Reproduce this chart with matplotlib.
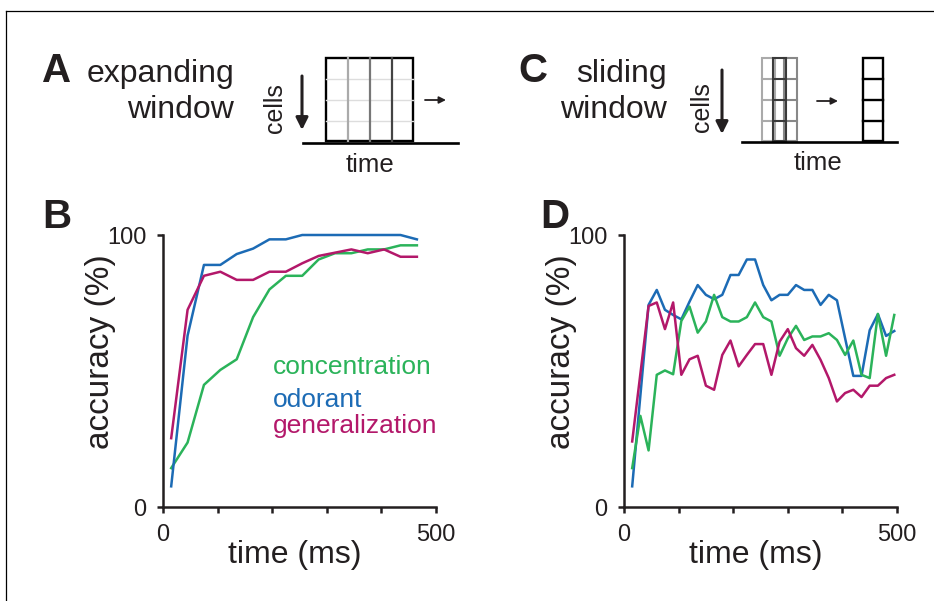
import matplotlib.pyplot as plt
from matplotlib.patches import Rectangle

plt.rcParams['font.family'] = ['Liberation Sans', 'DejaVu Sans']

# Panel B: expanding window (ms)
t_expand = [15, 45, 75, 105, 135, 165, 195, 225, 255, 285, 315, 345, 375, 405, 435, 465]
conc_expand = [14.3, 23.7, 44.9, 50.4, 54.3, 69.8, 80.0, 85.0, 85.0, 91.0, 93.3, 93.3, 94.7, 94.7, 96.2, 96.2]
odor_expand = [7.6, 63.0, 89.0, 89.0, 93.0, 95.0, 98.4, 98.4, 100, 100, 100, 100, 100, 100, 100, 98.4]
gen_expand = [25.3, 72.5, 85.0, 86.5, 83.5, 83.5, 86.5, 86.5, 89.6, 92.3, 93.5, 94.7, 93.3, 94.7, 92.0, 92.0]

# Panel D: sliding window (ms)
t_slide = [15, 30, 45, 60, 75, 90, 105, 120, 135, 150, 165, 180, 195, 210, 225, 240, 255,
           270, 285, 300, 315, 330, 345, 360, 375, 390, 405, 420, 435, 450, 465, 480, 495]
conc_slide = [14.3, 33.5, 20.8, 48.6, 50.2, 48.8, 68.4, 73.7, 64.1, 68.2, 78.0, 69.8, 68.2,
              68.2, 69.8, 75.2, 69.8, 68.2, 55.6, 62.0, 66.6, 61.4, 62.7, 62.7, 63.9, 61.4,
              55.9, 61.2, 48.6, 47.4, 71.0, 55.6, 70.6]
odor_slide = [7.6, 41.0, 74.3, 79.8, 72.5, 70.6, 69.0, 75.5, 81.6, 78.0, 76.4, 78.0, 85.3,
              85.3, 91.0, 91.0, 81.6, 76.0, 78.0, 78.0, 81.6, 79.8, 79.8, 74.3, 78.0, 76.0,
              62.0, 48.2, 48.2, 65.0, 70.9, 62.9, 64.7]
gen_slide = [24.1, 49.0, 73.9, 75.2, 65.4, 75.2, 48.6, 54.3, 55.6, 44.6, 43.1, 55.9, 61.2,
             51.7, 55.9, 59.9, 59.9, 48.6, 60.8, 65.4, 58.4, 55.6, 59.6, 54.1, 47.4, 38.8,
             41.9, 43.1, 40.4, 44.6, 44.6, 47.4, 48.6]

series_names = ['concentration', 'odorant', 'generalization']
colors = {'concentration': '#2bb35a', 'odorant': '#1c6bb5', 'generalization': '#b3186a'}
dark = '#231f20'

W, H = 934, 601
fig = plt.figure(figsize=(W / 100, H / 100), dpi=100)

# overlay in pixel coords for the frame, schematics and panel letters
bg = fig.add_axes([0, 0, 1, 1])
bg.set_xlim(0, W)
bg.set_ylim(H, 0)
bg.axis('off')
bg.patch.set_alpha(0)

bg.plot([6, W], [11, 11], color='black', lw=0.9)
bg.plot([6, 6], [11, H], color='black', lw=0.9)

for letter, x, y in [('A', 42, 82), ('B', 42, 228), ('C', 518, 82), ('D', 540, 228)]:
    bg.text(x, y, letter, fontsize=29, fontweight='bold', color=dark, ha='left', va='baseline')

for title, x in [(('expanding', 'window'), 234), (('sliding', 'window'), 667)]:
    bg.text(x, 82, title[0], fontsize=23, color=dark, ha='right', va='baseline')
    bg.text(x, 118, title[1], fontsize=23, color=dark, ha='right', va='baseline')


def down_arrow(x, y0, y1):
    bg.annotate('', xy=(x, y1), xytext=(x, y0),
                arrowprops=dict(arrowstyle='-|>', color=dark, lw=2.2,
                                mutation_scale=18, shrinkA=0, shrinkB=0))


def right_arrow(x0, x1, y):
    bg.annotate('', xy=(x1, y), xytext=(x0, y),
                arrowprops=dict(arrowstyle='-|>', color=dark, lw=1.3,
                                mutation_scale=10, shrinkA=0, shrinkB=0))


def column(x0, x1, y0, y1, color, lw):
    bg.add_patch(Rectangle((x0, y0), x1 - x0, y1 - y0, fill=False, edgecolor=color, lw=lw))
    for yy in [79, 100, 121]:
        bg.plot([x0, x1], [yy, yy], color=color, lw=lw)


# A schematic
for yy in [79, 100, 121]:
    bg.plot([326, 413], [yy, yy], color='#dddddd', lw=1.0)
for xx, c in [(348, '#aaaaaa'), (370, '#777777'), (392, '#444444')]:
    bg.plot([xx, xx], [58, 141], color=c, lw=1.6)
bg.add_patch(Rectangle((326, 58), 87, 83, fill=False, edgecolor='black', lw=1.7))
bg.plot([303, 458], [143, 143], color='black', lw=1.9)
down_arrow(302, 76, 130)
right_arrow(425, 446, 100)
bg.text(275, 108, 'cells', fontsize=18, color=dark, rotation=90, ha='center', va='center')
bg.text(370, 165, 'time', fontsize=18.5, color=dark, ha='center', va='center')

# C schematic
column(762, 775, 58, 141, '#aaaaaa', 1.5)
column(784, 797, 58, 141, '#888888', 1.5)
column(773, 786, 58, 141, '#3a3a3a', 1.5)
column(863, 883, 58, 141, 'black', 1.7)
bg.plot([742, 897], [142, 142], color='black', lw=1.9)
down_arrow(722, 70, 134)
right_arrow(817, 838, 101)
bg.text(702, 107, 'cells', fontsize=18, color=dark, rotation=90, ha='center', va='center')
bg.text(818, 163, 'time', fontsize=18.5, color=dark, ha='center', va='center')


def make_axes(left_px):
    ax = fig.add_axes([left_px / W, (H - 507) / H, 273 / W, 272 / H])
    ax.set_xlim(0, 500)
    ax.set_ylim(0, 100)
    for s in ['top', 'right']:
        ax.spines[s].set_visible(False)
    for s in ['left', 'bottom']:
        ax.spines[s].set_linewidth(1.8)
        ax.spines[s].set_color(dark)
    ax.set_xticks([0, 100, 200, 300, 400, 500])
    ax.set_xticklabels(['0', '', '', '', '', '500'])
    ax.set_yticks([0, 100])
    ax.set_yticklabels(['0', '100'])
    ax.tick_params(direction='out', length=4, width=1.8, color=dark, labelsize=17,
                   labelcolor=dark, pad=8)
    ax.patch.set_alpha(0)
    ax.text(-0.23, 0.57, 'accuracy (%)', transform=ax.transAxes, rotation=90,
            fontsize=24, color=dark, ha='center', va='center')
    ax.text(0.483, -0.176, 'time (ms)', transform=ax.transAxes,
            fontsize=23, color=dark, ha='center', va='center')
    return ax


axB = make_axes(163)
axB.plot(t_expand, conc_expand, color=colors['concentration'], lw=1.8, clip_on=False)
axB.plot(t_expand, odor_expand, color=colors['odorant'], lw=1.8, clip_on=False)
axB.plot(t_expand, gen_expand, color=colors['generalization'], lw=1.8, clip_on=False)

# legend as coloured words
for name, y in zip(series_names, [374, 407, 433]):
    bg.text(273, y, name, fontsize=19, color=colors[name], ha='left', va='baseline')

axD = make_axes(624)
axD.plot(t_slide, odor_slide, color=colors['odorant'], lw=1.8, clip_on=False)
axD.plot(t_slide, conc_slide, color=colors['concentration'], lw=1.8, clip_on=False)
axD.plot(t_slide, gen_slide, color=colors['generalization'], lw=1.8, clip_on=False)

fig.savefig('out.png', dpi=100)
